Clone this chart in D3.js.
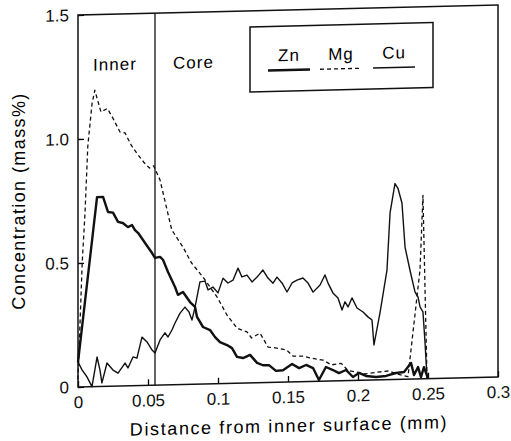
<!DOCTYPE html>
<html>
<head>
<meta charset="utf-8">
<script src="https://cdn.jsdelivr.net/npm/d3@7"></script>
<style>
  body { margin: 0; background: white; }
  svg { display: block; font-family: 'Liberation Sans', Arial, sans-serif; }
</style>
</head>
<body>
<div id="chart"></div>
<script>
// Zn profile (thick solid line): [distance (mm), concentration (mass%)]
const znData = [
  [0.000, 0.100], [0.0136, 0.764], [0.0179, 0.764], [0.0214, 0.703], [0.025, 0.700],
  [0.0286, 0.662], [0.032, 0.657], [0.0357, 0.640], [0.0386, 0.648], [0.0407, 0.627],
  [0.043, 0.615], [0.0479, 0.574], [0.0529, 0.533], [0.055, 0.513], [0.0586, 0.517],
  [0.0607, 0.505], [0.0643, 0.455], [0.0693, 0.394], [0.0714, 0.362], [0.075, 0.373],
  [0.080, 0.332], [0.0836, 0.312], [0.085, 0.271], [0.0893, 0.230], [0.0943, 0.217],
  [0.0979, 0.188], [0.1014, 0.167], [0.1064, 0.155], [0.110, 0.142], [0.1136, 0.106],
  [0.1179, 0.101], [0.1229, 0.113], [0.1279, 0.080], [0.1321, 0.070], [0.1364, 0.070],
  [0.1414, 0.046], [0.1464, 0.048], [0.1529, 0.072], [0.1579, 0.055], [0.1629, 0.067],
  [0.1679, 0.054], [0.1721, 0.005], [0.1771, 0.057], [0.1821, 0.044], [0.1864, 0.031],
  [0.1914, 0.043], [0.1964, 0.014], [0.2007, 0.030], [0.2057, 0.017], [0.2129, 0.012],
  [0.220, 0.015], [0.2271, 0.026], [0.2329, 0.029], [0.2379, 0.065], [0.240, 0.016],
  [0.2429, 0.048], [0.245, 0.007], [0.2471, 0.047], [0.250, 0.000]
];

// Mg profile (dashed line)
const mgData = [
  [0.000, 0.030], [0.003, 0.500], [0.005, 0.700], [0.007, 0.970], [0.010, 1.140],
  [0.012, 1.195], [0.0164, 1.107], [0.021, 1.120], [0.025, 1.080], [0.030, 1.024],
  [0.0336, 1.020], [0.038, 0.970], [0.042, 0.937], [0.047, 0.900], [0.051, 0.876],
  [0.054, 0.885], [0.0586, 0.827], [0.063, 0.720], [0.067, 0.624], [0.075, 0.554],
  [0.081, 0.490], [0.0893, 0.431], [0.0993, 0.350], [0.1064, 0.276], [0.1136, 0.222],
  [0.1207, 0.206], [0.124, 0.181], [0.130, 0.200], [0.1357, 0.143], [0.142, 0.138],
  [0.149, 0.129], [0.1536, 0.104], [0.161, 0.103], [0.166, 0.095], [0.175, 0.085],
  [0.181, 0.065], [0.188, 0.070], [0.193, 0.040], [0.199, 0.034], [0.205, 0.025],
  [0.212, 0.030], [0.222, 0.035], [0.229, 0.020], [0.2357, 0.010], [0.2443, 0.440],
  [0.2464, 0.740], [0.2493, 0.000]
];

// Cu profile (thin solid line)
const cuData = [
  [0.000, 0.100], [0.003, 0.068], [0.0064, 0.040], [0.010, 0.000], [0.0136, 0.119],
  [0.0157, 0.066], [0.0171, 0.014], [0.0207, 0.094], [0.025, 0.065], [0.0286, 0.052],
  [0.0336, 0.092], [0.0357, 0.072], [0.0393, 0.116], [0.0421, 0.111], [0.0457, 0.195],
  [0.0493, 0.175], [0.0529, 0.142], [0.055, 0.130], [0.0586, 0.182], [0.0621, 0.210],
  [0.0643, 0.193], [0.0671, 0.221], [0.0693, 0.249], [0.0729, 0.288], [0.0764, 0.312],
  [0.0793, 0.292], [0.0814, 0.259], [0.0836, 0.311], [0.0871, 0.412], [0.0907, 0.415],
  [0.0929, 0.379], [0.0964, 0.390], [0.100, 0.366], [0.1036, 0.425], [0.1071, 0.405],
  [0.1107, 0.416], [0.1143, 0.464], [0.1171, 0.428], [0.1207, 0.435], [0.1243, 0.407],
  [0.1279, 0.426], [0.1321, 0.454], [0.1357, 0.421], [0.1393, 0.400], [0.1421, 0.424],
  [0.1457, 0.400], [0.1493, 0.363], [0.1529, 0.399], [0.1564, 0.410], [0.1607, 0.418],
  [0.1643, 0.397], [0.1679, 0.360], [0.1729, 0.388], [0.1764, 0.428], [0.1786, 0.395],
  [0.1821, 0.355], [0.1857, 0.334], [0.1886, 0.285], [0.1907, 0.318], [0.1929, 0.297],
  [0.1957, 0.333], [0.1993, 0.292], [0.2036, 0.275], [0.2071, 0.255], [0.210, 0.242],
  [0.2114, 0.141], [0.2157, 0.270], [0.2207, 0.442], [0.2229, 0.672], [0.2264, 0.790],
  [0.2286, 0.770], [0.2314, 0.711], [0.2336, 0.533], [0.2371, 0.440], [0.2407, 0.351],
  [0.2429, 0.330], [0.2443, 0.290], [0.2464, 0.270], [0.2479, 0.144], [0.2493, 0.000]
];

// Tick values for both axes
const xTicks = [0, 0.05, 0.1, 0.15, 0.2, 0.25, 0.3];
const yTicks = [0, 0.5, 1.0, 1.5];

// Boundary between the inner layer and the core (mm)
const boundaryX = [0.055];

// Legend entries
const legendNames = ['Zn', 'Mg', 'Cu'];

function createChart() {
  const width = 511;
  const height = 441;
  const margin = { top: 15, right: 13, bottom: 54, left: 78 };

  const svg = d3.select('#chart')
    .append('svg')
    .attr('width', width)
    .attr('height', height);

  // The scanned figure is slightly sheared, so the whole plot gets a small skew
  const g = svg.append('g')
    .attr('transform', `translate(${margin.left},0) skewY(-1.36) translate(${-margin.left},0)`);

  const x = d3.scaleLinear()
    .domain([0, 0.3])
    .range([margin.left, width - margin.right]);

  const y = d3.scaleLinear()
    .domain([0, 1.5])
    .range([height - margin.bottom, margin.top]);

  // Axes with ticks pointing into the plot
  g.append('g')
    .attr('transform', `translate(0,${height - margin.bottom})`)
    .call(d3.axisBottom(x).tickValues(xTicks).tickFormat(d => String(d))
      .tickSizeInner(-6).tickSizeOuter(0).tickPadding(9))
    .call(a => a.select('.domain').remove())
    .call(a => a.selectAll('line').attr('stroke-width', 1.3))
    .call(a => a.selectAll('text').attr('font-size', 17).attr('font-family', null).attr('fill', '#111'));

  g.append('g')
    .attr('transform', `translate(${margin.left},0)`)
    .call(d3.axisLeft(y).tickValues(yTicks).tickFormat(d => d === 0 ? '0' : d.toFixed(1))
      .tickSizeInner(-6).tickSizeOuter(0).tickPadding(9))
    .call(a => a.select('.domain').remove())
    .call(a => a.selectAll('line').attr('stroke-width', 1.3))
    .call(a => a.selectAll('text').attr('font-size', 17).attr('font-family', null).attr('fill', '#111'));

  // Frame around the plot
  g.append('rect')
    .attr('x', x(0))
    .attr('y', y(1.5))
    .attr('width', x(0.3) - x(0))
    .attr('height', y(0) - y(1.5))
    .attr('fill', 'none')
    .attr('stroke', '#111')
    .attr('stroke-width', 1.5);

  // Vertical line between Inner and Core
  g.selectAll('.boundary')
    .data(boundaryX)
    .join('line')
    .attr('class', 'boundary')
    .attr('x1', d => x(d)).attr('x2', d => x(d))
    .attr('y1', y(0)).attr('y2', y(1.5))
    .attr('stroke', '#111')
    .attr('stroke-width', 1.3);

  // Region labels
  g.append('text')
    .attr('x', x(0.0264)).attr('y', 71)
    .attr('text-anchor', 'middle')
    .attr('font-size', 17).attr('letter-spacing', 1)
    .text('Inner');
  g.append('text')
    .attr('x', x(0.0825)).attr('y', 71)
    .attr('text-anchor', 'middle')
    .attr('font-size', 17).attr('letter-spacing', 1)
    .text('Core');

  // Line generator
  const line = d3.line()
    .x(d => x(d[0]))
    .y(d => y(d[1]));

  const series = [
    { name: 'Zn', data: znData, width: 2.4, dash: null },
    { name: 'Mg', data: mgData, width: 1.3, dash: '4,3' },
    { name: 'Cu', data: cuData, width: 1.4, dash: null }
  ];

  g.selectAll('.series')
    .data(series)
    .join('path')
    .attr('class', 'series')
    .attr('d', d => line(d.data))
    .attr('fill', 'none')
    .attr('stroke', '#111')
    .attr('stroke-width', d => d.width)
    .attr('stroke-dasharray', d => d.dash)
    .attr('stroke-linejoin', 'round');

  // Legend box
  const legend = g.append('g');
  legend.append('rect')
    .attr('x', 250).attr('y', 31)
    .attr('width', 183).attr('height', 65)
    .attr('fill', 'none')
    .attr('stroke', '#111')
    .attr('stroke-width', 1.5);

  const legendX = [289, 341, 394];
  legendNames.forEach((name, i) => {
    const s = series.find(d => d.name === name);
    legend.append('text')
      .attr('x', legendX[i]).attr('y', 66)
      .attr('text-anchor', 'middle')
      .attr('font-size', 17).attr('letter-spacing', 1)
      .text(name);
    legend.append('line')
      .attr('x1', legendX[i] - 21).attr('x2', legendX[i] + 21)
      .attr('y1', 75).attr('y2', 75)
      .attr('stroke', '#111')
      .attr('stroke-width', s.width)
      .attr('stroke-dasharray', s.dash);
  });

  // x-label
  g.append('text')
    .attr('x', 289).attr('y', 437)
    .attr('text-anchor', 'middle')
    .attr('font-size', 18)
    .attr('letter-spacing', 1.6)
    .text('Distance from inner surface (mm)');

  // y-label, rotated
  svg.append('text')
    .attr('transform', 'translate(25,201) rotate(-90)')
    .attr('text-anchor', 'middle')
    .attr('font-size', 18)
    .attr('letter-spacing', 1.4)
    .text('Concentration (mass%)');
}

window.onload = () => {
  createChart();
};
</script>
</body>
</html>
